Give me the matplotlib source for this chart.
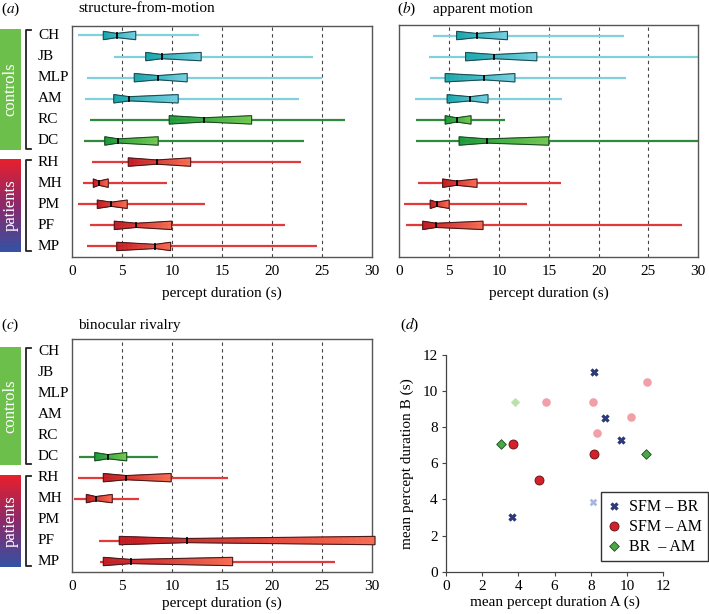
import numpy as np
import matplotlib
matplotlib.use('Agg')
import matplotlib.pyplot as plt
from matplotlib.collections import PolyCollection
from matplotlib.patches import Polygon
from matplotlib.lines import Line2D
from matplotlib.colors import to_rgb, LinearSegmentedColormap
import matplotlib.transforms as mtransforms

plt.rcParams['font.family'] = ['Liberation Serif', 'DejaVu Serif']
plt.rcParams['mathtext.fontset'] = 'stix'
plt.rcParams['font.size'] = 11

# ---------------- data ----------------
subjects = ['CH', 'JB', 'MLP', 'AM', 'RC', 'DC', 'RH', 'MH', 'PM', 'PF', 'MP']
groups = ['c', 'c', 'c', 'c', 'g', 'g', 'r', 'r', 'r', 'r', 'r']

# (a) structure-from-motion : whisker low, q1, median, q3, whisker high
sfm_lo = [0.6, 4.2, 1.5, 1.25, 1.75, 1.15, 2.0, 1.1, 0.6, 1.8, 1.45]
sfm_q1 = [3.1, 7.35, 6.2, 4.15, 9.7, 3.25, 5.6, 2.1, 2.5, 4.2, 4.45]
sfm_med = [4.45, 8.95, 8.6, 5.7, 13.2, 4.6, 8.45, 2.65, 3.9, 6.4, 8.3]
sfm_q3 = [6.35, 12.9, 11.5, 10.6, 17.95, 8.6, 11.85, 3.6, 5.5, 9.95, 9.85]
sfm_hi = [12.7, 24.1, 25.0, 22.7, 27.3, 23.2, 22.9, 9.45, 13.3, 21.3, 24.5]

# (b) apparent motion (RH, MP not measured)
am_lo = [3.4, 3.0, 3.05, 1.55, 1.7, 1.7, None, 1.85, 0.5, 0.65, None]
am_q1 = [5.75, 6.65, 4.6, 4.8, 4.6, 6.0, None, 4.35, 3.1, 2.35, None]
am_med = [7.75, 9.55, 8.5, 7.1, 5.75, 8.8, None, 5.75, 3.75, 3.7, None]
am_q3 = [10.85, 13.8, 11.6, 8.9, 7.2, 15.0, None, 7.8, 5.0, 8.4, None]
am_hi = [22.5, 31.0, 22.7, 16.3, 10.6, 31.0, None, 16.25, 12.8, 28.4, None]

# (c) binocular rivalry
br_lo = [None, None, None, None, None, 0.65, 0.55, 0.15, None, 2.7, 2.8]
br_q1 = [None, None, None, None, None, 2.25, 3.1, 1.4, None, 4.7, 3.1]
br_med = [None, None, None, None, None, 3.55, 5.4, 2.35, None, 11.45, 5.85]
br_q3 = [None, None, None, None, None, 5.45, 9.9, 4.0, None, 30.3, 16.05]
br_hi = [None, None, None, None, None, 8.6, 15.6, 6.7, None, 30.3, 26.3]

# (d) mean durations, pairs of conditions
sfm_br_x = [8.18, 8.78, 9.65, 3.66]
sfm_br_y = [11.04, 8.53, 7.29, 3.04]
sfm_br_light_x = [8.12]
sfm_br_light_y = [3.84]
sfm_am_x = [3.68, 8.18, 5.14]
sfm_am_y = [7.05, 6.53, 5.07]
sfm_am_light_x = [5.54, 8.12, 11.09, 10.2, 8.36]
sfm_am_light_y = [9.39, 9.37, 10.48, 8.58, 7.69]
br_am_x = [3.06, 11.05]
br_am_y = [7.05, 6.53]
br_am_light_x = [3.83]
br_am_light_y = [9.37]

# colours: box left, box right, whisker, box edge
palette = {
    'c': ('#17a6aa', '#74cfe2', '#80d0de', '#1d4c52'),
    'g': ('#1d9a3c', '#74c94f', '#2f8a3f', '#1d4a24'),
    'r': ('#c21b22', '#f76c52', '#e23a3a', '#4a1a1a'),
}

W, H = 709, 614
fig = plt.figure(figsize=(W / 100, H / 100), dpi=100)


def fx(px):
    return px / W


def fy(py):
    return 1 - py / H


def draw_box(ax, y, lo, q1, med, q3, hi, grp, h_end=0.2, h_mid=0.1, n=30):
    c0, c1, cw, ce = palette[grp]
    c0, c1 = np.array(to_rgb(c0)), np.array(to_rgb(c1))
    ax.plot([lo, hi], [y, y], color=cw, lw=1.6, zorder=2, solid_capstyle='butt')
    quads, cols = [], []
    for a, b, ha, hb in [(q1, med, h_end, h_mid), (med, q3, h_mid, h_end)]:
        xs = np.linspace(a, b, n + 1)
        hs = np.linspace(ha, hb, n + 1)
        for i in range(n):
            quads.append([(xs[i], y - hs[i]), (xs[i + 1], y - hs[i + 1]),
                          (xs[i + 1], y + hs[i + 1]), (xs[i], y + hs[i])])
            t = ((xs[i] + xs[i + 1]) / 2 - q1) / (q3 - q1)
            cols.append(tuple(c0 + (c1 - c0) * t))
    pc = PolyCollection(quads, facecolors=cols, edgecolors=cols,
                        linewidths=0.4, zorder=3, clip_on=False)
    ax.add_collection(pc)
    outline = Polygon([(q1, y - h_end), (med, y - h_mid), (q3, y - h_end),
                       (q3, y + h_end), (med, y + h_mid), (q1, y + h_end)],
                      closed=True, fill=False, ec=ce, lw=0.8, zorder=4, clip_on=False)
    ax.add_patch(outline)
    ax.plot([med, med], [y - h_mid, y + h_mid], color='k', lw=1.3, zorder=5, clip_on=False)


def box_panel(rect, lo, q1, med, q3, hi, top_pad, xlabelpad=6):
    ax = fig.add_axes(rect)
    for i in range(len(subjects)):
        if lo[i] is None:
            continue
        draw_box(ax, i, lo[i], q1[i], med[i], q3[i], hi[i], groups[i])
    for v in [5, 10, 15, 20, 25]:
        ax.axvline(v, color='#444444', ls=(0, (3, 3)), lw=0.8, zorder=1)
    ax.set_xlim(0, 30)
    ax.set_ylim(10.5, -top_pad)
    ax.set_xticks(range(0, 31, 5))
    ax.set_yticks([])
    ax.tick_params(axis='x', length=0, pad=6, labelsize=11)
    for s in ax.spines.values():
        s.set_color('#555555')
        s.set_linewidth(1.0)
    ax.set_xlabel('percept duration (s)', fontsize=11, labelpad=xlabelpad)
    return ax


def side_labels(ax, ctrl_px, pat_px):
    # row names
    tr = mtransforms.blended_transform_factory(fig.transFigure, ax.transData)
    for i, name in enumerate(subjects):
        ax.text(fx(38), i, name, transform=tr, ha='left', va='center', fontsize=11)
    # coloured group boxes
    cax = fig.add_axes([0, fy(ctrl_px[1]), fx(21), (ctrl_px[1] - ctrl_px[0]) / H])
    cax.set_facecolor('#6dbf4b')
    cax.set_xticks([]); cax.set_yticks([])
    for s in cax.spines.values():
        s.set_visible(False)
    cax.text(0.5, 0.5, 'controls', rotation=90, color='white', ha='center',
             va='center', fontsize=12, transform=cax.transAxes)
    pax = fig.add_axes([0, fy(pat_px[1]), fx(21), (pat_px[1] - pat_px[0]) / H])
    cmap = LinearSegmentedColormap.from_list('pat', ['#e8202c', '#8a2a6a', '#3552a4'])
    pax.imshow(np.linspace(0, 1, 100).reshape(-1, 1), cmap=cmap, aspect='auto',
               extent=[0, 1, 1, 0])
    pax.set_xticks([]); pax.set_yticks([])
    for s in pax.spines.values():
        s.set_visible(False)
    pax.text(0.5, 0.5, 'patients', rotation=90, color='white', ha='center',
             va='center', fontsize=12, transform=pax.transAxes)
    # brackets
    for y0, y1 in [ctrl_px, pat_px]:
        y0, y1 = y0 + 1, y1 - 1
        fig.add_artist(Line2D([fx(31), fx(26), fx(26), fx(31)],
                              [fy(y0), fy(y0), fy(y1), fy(y1)],
                              color='#222222', lw=1.3, transform=fig.transFigure))


# (a)
ax_a = box_panel([fx(72.3), fy(257), fx(299.7), 231 / H],
                 sfm_lo, sfm_q1, sfm_med, sfm_q3, sfm_hi, 0.45)
side_labels(ax_a, (29.3, 150), (159, 252))
fig.text(fx(1), fy(9), r'($a$)', ha='left', va='center', fontsize=11)
fig.text(fx(78), fy(9), 'structure-from-motion', ha='left', va='center', fontsize=11)

# (b)
ax_b = box_panel([fx(399.3), fy(257), fx(299), 232 / H],
                 am_lo, am_q1, am_med, am_q3, am_hi, 0.5)
fig.text(fx(397), fy(9), r'($b$)', ha='left', va='center', fontsize=11)
fig.text(fx(433), fy(9), 'apparent motion', ha='left', va='center', fontsize=11)

# (c)
ax_c = box_panel([fx(72.3), fy(572), fx(299.7), 232.7 / H],
                 br_lo, br_q1, br_med, br_q3, br_hi, 0.6, xlabelpad=2)
side_labels(ax_c, (346.7, 465), (475, 566.7))
fig.text(fx(1), fy(325), r'($c$)', ha='left', va='center', fontsize=11)
fig.text(fx(78), fy(325), 'binocular rivalry', ha='left', va='center', fontsize=11)

# (d)
ax_d = fig.add_axes([fx(446), fy(571.7), fx(217.3), 216.7 / H])
ax_d.scatter(sfm_br_light_x, sfm_br_light_y, marker='X', s=30, color='#a9b7e0', lw=0, zorder=3)
ax_d.scatter(sfm_am_light_x, sfm_am_light_y, marker='o', s=38, color='#f2a0a8', lw=0, zorder=3)
ax_d.scatter(br_am_light_x, br_am_light_y, marker='D', s=22, color='#b9e2a9', lw=0, zorder=3)
ax_d.scatter(sfm_br_x, sfm_br_y, marker='X', s=30, color='#2c3a80', lw=0.3,
             edgecolor='#1a2350', zorder=4, label='SFM – BR')
ax_d.scatter(sfm_am_x, sfm_am_y, marker='o', s=42, color='#d4202a', lw=0.6,
             edgecolor='#5a1010', zorder=4, label='SFM – AM')
ax_d.scatter(br_am_x, br_am_y, marker='D', s=24, color='#4aa846', lw=0.6,
             edgecolor='#1f4a1f', zorder=4, label='BR  – AM')
ax_d.set_xlim(0, 12)
ax_d.set_ylim(0, 12)
ax_d.set_xticks(range(0, 13, 2))
ax_d.set_yticks(range(0, 13, 2))
ax_d.spines['top'].set_visible(False)
ax_d.spines['right'].set_visible(False)
for s in ['left', 'bottom']:
    ax_d.spines[s].set_color('#444444')
    ax_d.spines[s].set_linewidth(0.9)
ax_d.tick_params(length=3, width=0.8, color='#444444', labelsize=11, pad=3)
ax_d.set_xlabel('mean percept duration A (s)', fontsize=11, labelpad=2)
ax_d.set_ylabel('mean percept duration B (s)', fontsize=11, labelpad=6)
leg = ax_d.legend(loc='lower right', bbox_to_anchor=(fx(708), fy(561)),
                  bbox_transform=fig.transFigure, borderaxespad=0, frameon=True,
                  fancybox=False, edgecolor='black', handlelength=0.8,
                  handletextpad=0.5, borderpad=0.4, labelspacing=0.25, fontsize=11.5)
leg.get_frame().set_linewidth(1.0)
fig.text(fx(400), fy(325), r'($d$)', ha='left', va='center', fontsize=11)

fig.savefig('out.png', dpi=100)
